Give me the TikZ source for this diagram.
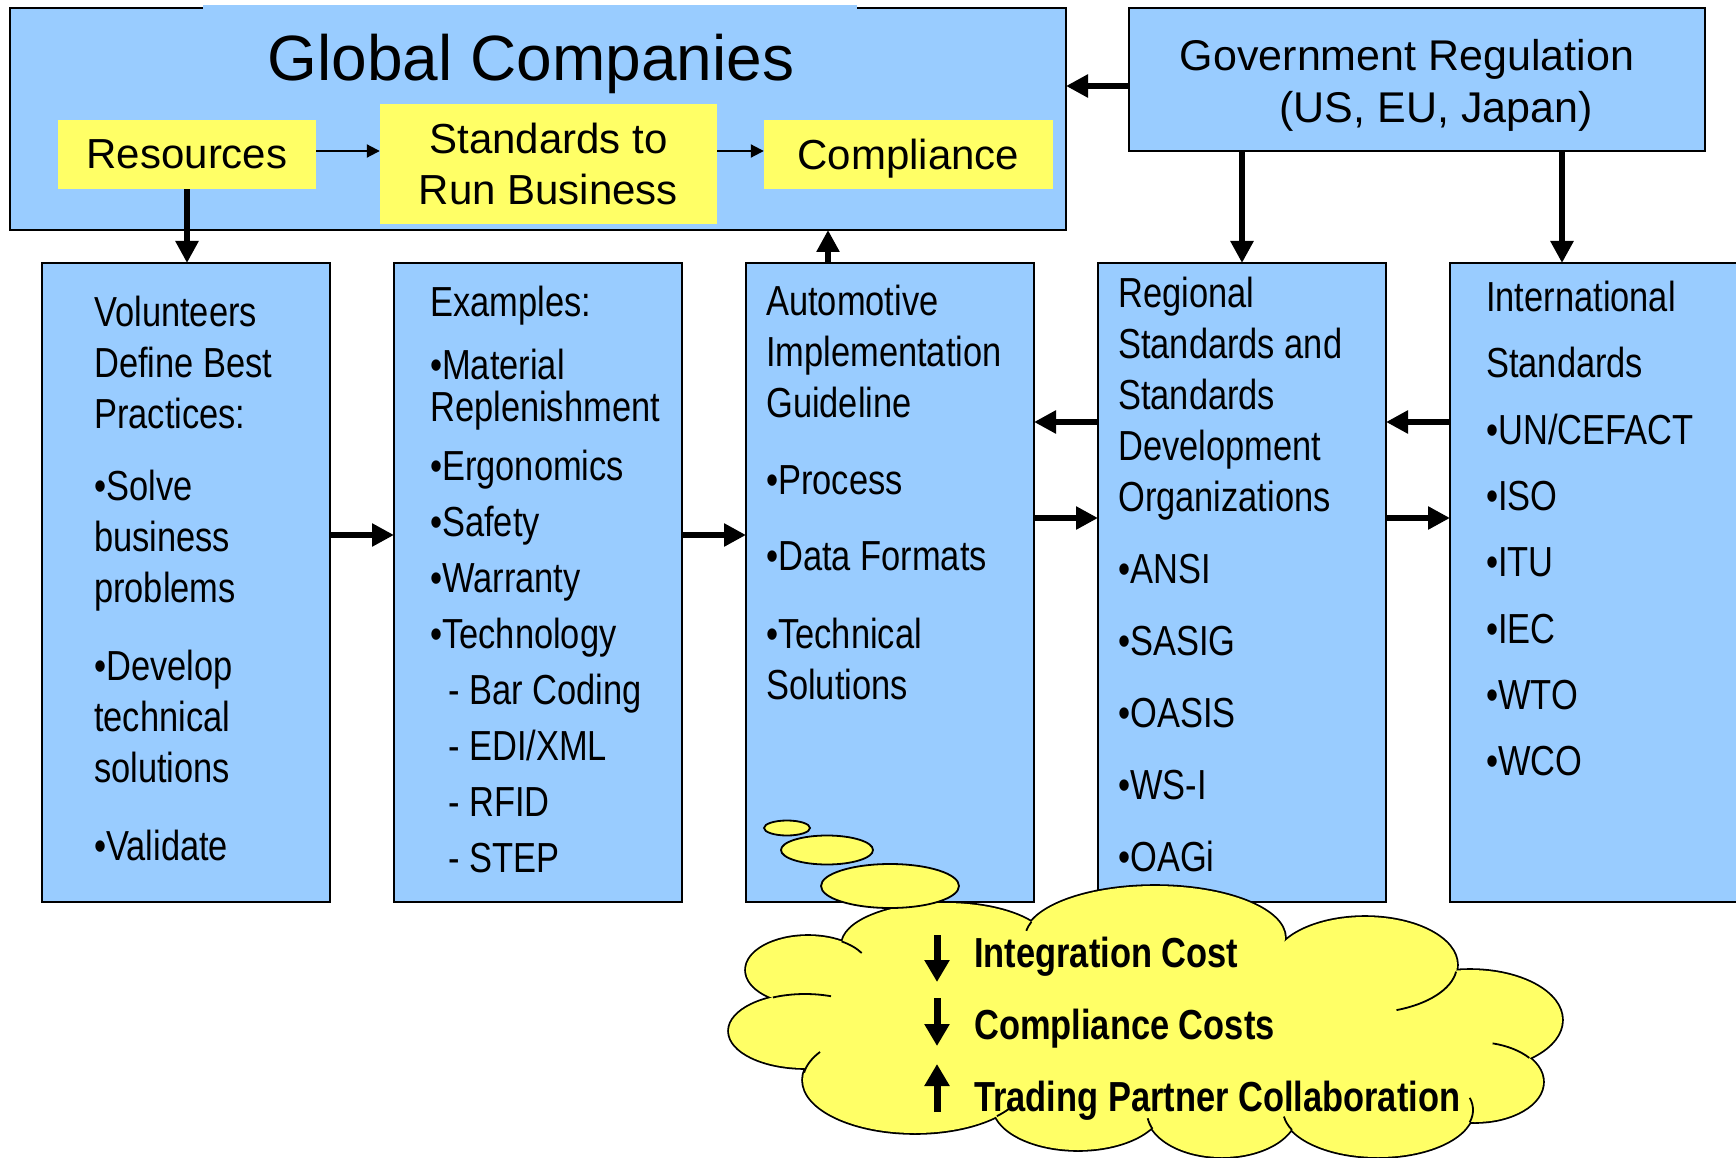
\documentclass[tikz,border=0pt]{standalone}
\usepackage{fontspec}
\setmainfont{Liberation Sans}
\newfontfamily\narrow[FakeStretch=0.82]{Liberation Sans}
\usetikzlibrary{positioning,calc,arrows.meta}
\definecolor{boxblue}{HTML}{99CCFF}
\definecolor{noteyellow}{HTML}{FFFF66}
\tikzset{
  panel/.style={draw, line width=2.5pt, fill=boxblue, rectangle, inner sep=0pt, outer sep=0pt,
    anchor=north west, minimum width=288pt, minimum height=639pt},
  tag/.style={fill=noteyellow, rectangle, inner sep=0pt, align=center, font=\fontsize{42}{51}\selectfont},
  blurb/.style={anchor=north west, inner sep=0pt, align=left, font=\narrow\fontsize{42}{51}\selectfont},
  gain/.style={anchor=base west, inner sep=0pt, font=\narrow\bfseries\fontsize{42}{51}\selectfont},
  bigarrow/.style={line width=5.5pt, -{Triangle[length=22pt, width=22pt]}},
  thinarrow/.style={line width=2pt, -{Triangle[length=13pt, width=13pt]}},
  updown/.style={line width=7pt, -{Triangle[length=22pt, width=24pt]}},
  lobe/.style={draw, line width=3.6pt, fill=noteyellow},
  stub/.style={draw, line width=1.8pt},
  bubble/.style={draw, line width=1.8pt, fill=noteyellow}
}
\begin{document}
\begin{tikzpicture}[x=1pt, y=-1pt]
\useasboundingbox (0,0) rectangle (1736,1158);
% companies and regulation
\node (global) [panel, minimum width=1056pt, minimum height=222pt] at (10,8) {};
\fill[boxblue] (203,5) rectangle (857,20);
\node (title) [anchor=base, inner sep=0pt, font=\fontsize{64}{70}\selectfont] at (531,81) {Global Companies};
\node (resources) [tag, minimum width=258pt, minimum height=69pt, text depth=0pt] at (187,154.5) {Resources};
\node (standards) [tag, minimum width=337pt, minimum height=120pt] at (548.5,164) {Standards to\\Run Business};
\node (compliance) [tag, minimum width=289pt, minimum height=69pt, text depth=0pt] at (908.5,154.5) {Compliance};
\node (gov) [panel, minimum width=576pt, minimum height=143pt] at (1129,8) {};
\node (govtext) [anchor=north, inner sep=0pt, align=center, font=\fontsize{43}{52}\selectfont] at (1407,39)
  {Government Regulation\\\hspace*{58pt}(US, EU, Japan)};

% the five columns
\node (volunteers) [panel] at (42,263) {};
\node (examples) [panel, right=64pt of volunteers] {};
\node (guideline) [panel, right=64pt of examples] {};
\node (regional) [panel, right=64pt of guideline] {};
\node (intl) [panel, right=64pt of regional, minimum width=300pt] {};

\node (volunteerstext) [blurb] at ($(volunteers.north west)+(52,33)$)
  {Volunteers\\Define Best\\Practices:\\[21pt]•Solve\\business\\problems\\[27pt]•Develop\\technical\\solutions\\[27pt]•Validate};
\node (examplestext) [blurb, font=\narrow\fontsize{42}{56}\selectfont] at ($(examples.north west)+(36,23)$)
  {Examples:\\[7pt]•Material\\[-14pt]Replenishment\\[3pt]•Ergonomics\\•Safety\\•Warranty\\•Technology\\
   \hspace*{18pt}- Bar Coding\\\hspace*{18pt}- EDI/XML\\\hspace*{18pt}- RFID\\\hspace*{18pt}- STEP};
\node (guidelinetext) [blurb] at ($(guideline.north west)+(20,22)$)
  {Automotive\\Implementation\\Guideline\\[26pt]•Process\\[25pt]•Data Formats\\[27pt]•Technical\\Solutions};
\node (regionaltext) [blurb] at ($(regional.north west)+(20,14)$)
  {Regional\\Standards and\\Standards\\Development\\Organizations\\[21pt]•ANSI\\[21pt]•SASIG\\[21pt]•OASIS\\[21pt]•WS-I\\[21pt]•OAGi};
\node (intltext) [blurb, font=\narrow\fontsize{42}{66.3}\selectfont] at ($(intl.north west)+(36,18)$)
  {International\\Standards\\•UN/CEFACT\\•ISO\\•ITU\\•IEC\\•WTO\\•WCO};

% connectors
\draw[thinarrow] ([yshift=3.5pt]resources.east) -- ([yshift=3.5pt]resources.east -| standards.west);
\draw[thinarrow] ([yshift=3.5pt]compliance.west -| standards.east) -- ([yshift=3.5pt]compliance.west);
\draw[bigarrow] (resources.south) -- (resources.south |- volunteers.north);
\draw[bigarrow] ([xshift=-62pt]guideline.north) -- ([xshift=-62pt]guideline.north |- global.south);
\draw[bigarrow] ([yshift=-6.5pt]gov.west) -- ([yshift=-6.5pt]gov.west -| global.east);
\draw[bigarrow] (gov.south -| regional.north) -- (regional.north);
\draw[bigarrow] ([xshift=-38pt]intl.north |- gov.south) -- ([xshift=-38pt]intl.north);
\draw[bigarrow] ([yshift=47.5pt]volunteers.east) -- ([yshift=47.5pt]examples.west);
\draw[bigarrow] ([yshift=47.5pt]examples.east) -- ([yshift=47.5pt]guideline.west);
\draw[bigarrow] ([yshift=160.5pt]regional.west) -- ([yshift=160.5pt]guideline.east);
\draw[bigarrow] ([yshift=64.5pt]guideline.east) -- ([yshift=64.5pt]regional.west);
\draw[bigarrow] ([yshift=160.5pt]intl.west) -- ([yshift=160.5pt]regional.east);
\draw[bigarrow] ([yshift=64.5pt]regional.east) -- ([yshift=64.5pt]intl.west);

% cloud of benefits: outlined lobes, then filled again to hide the inner lines
\foreach \cx/\cy/\rx/\ry in {808/970/62/34, 945/945/103/42, 1155/938/130/52, 1365/965/92/48,
    1470/1020/92/50, 1475/1082/68/40, 1378/1110/95/47, 1222/1112/75/45, 1078/1105/85/45,
    915/1080/112/53, 805/1031/76/37}
  \draw[lobe] (\cx,\cy) ellipse [x radius=\rx, y radius=\ry];
\foreach \cx/\cy/\rx/\ry in {808/970/62/34, 945/945/103/42, 1155/938/130/52, 1365/965/92/48,
    1470/1020/92/50, 1475/1082/68/40, 1378/1110/95/47, 1222/1112/75/45, 1078/1105/85/45,
    915/1080/112/53, 805/1031/76/37, 1145/1025/330/85, 900/990/60/30}
  \fill[noteyellow] (\cx,\cy) ellipse [x radius=\rx, y radius=\ry];
% short inner arcs where the lobes meet
\foreach \cx/\cy/\rx/\ry/\ta/\tb in {808/970/62/34/-57/-30, 805/1031/76/37/-115/-70,
    915/1080/112/53/188/212, 915/1080/112/53/43/33, 1222/1112/75/45/158/172,
    1378/1110/95/47/155/172, 1378/1110/95/47/15/-15, 1475/1082/68/40/-37/-75,
    1365/965/92/48/8/70, 1155/938/130/52/-162/-172}
  \draw[stub] (\cx,\cy) ++({\rx*cos(\ta)},{\ry*sin(\ta)}) arc [start angle=\ta, end angle=\tb, x radius=\rx, y radius=\ry];
\draw[bubble] (787,828) ellipse [x radius=23, y radius=7.5];
\draw[bubble] (827,850) ellipse [x radius=46, y radius=14.5];
\draw[bubble] (890,886) ellipse [x radius=69, y radius=22];
\node (integration) [gain] at (974,967) {Integration Cost};
\node (costs) [gain] at (974,1039) {Compliance Costs};
\node (collab) [gain] at (974,1111) {Trading Partner Collaboration};
\draw[updown] ($(integration.base west)+(-37,-32)$) -- ++(0,47);
\draw[updown] ($(costs.base west)+(-37,-41)$) -- ++(0,48);
\draw[updown] ($(collab.base west)+(-37,1)$) -- ++(0,-48);
\end{tikzpicture}
\end{document}
